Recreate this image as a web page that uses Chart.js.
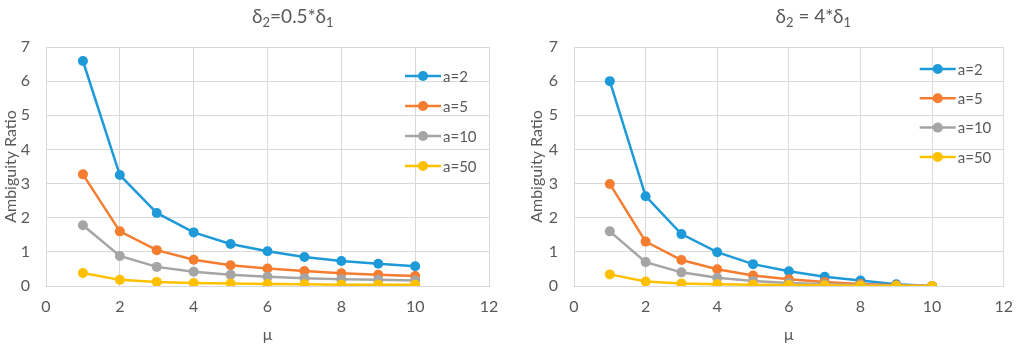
<!DOCTYPE html>
<html>
<head>
<meta charset="utf-8">
<script src="https://cdn.jsdelivr.net/npm/chart.js@4/dist/chart.umd.min.js"></script>
<style>
  html, body { margin: 0; padding: 0; background: #fff; }
  .box { position: absolute; top: 0; width: 512px; height: 344px; }
</style>
</head>
<body>
<div class="box" style="left:0"><canvas id="left" width="512" height="344"></canvas></div>
<div class="box" style="left:512px"><canvas id="right" width="512" height="344"></canvas></div>
<script>
// mu values (x axis)
const mu = [1, 2, 3, 4, 5, 6, 7, 8, 9, 10];
const seriesNames = ['a=2', 'a=5', 'a=10', 'a=50'];
const colors = ['#1f9ad9', '#f47d30', '#a5a5a5', '#ffc000'];

// left chart: delta2 = 0.5 * delta1
const halfA2 = [6.59, 3.25, 2.14, 1.57, 1.23, 1.02, 0.85, 0.73, 0.65, 0.58];
const halfA5 = [3.27, 1.60, 1.05, 0.77, 0.61, 0.51, 0.44, 0.37, 0.33, 0.29];
const halfA10 = [1.78, 0.88, 0.56, 0.42, 0.33, 0.27, 0.23, 0.20, 0.18, 0.16];
const halfA50 = [0.38, 0.18, 0.12, 0.09, 0.07, 0.06, 0.05, 0.04, 0.04, 0.04];

// right chart: delta2 = 4 * delta1
const fourA2 = [6.0, 2.63, 1.52, 0.99, 0.64, 0.43, 0.27, 0.16, 0.05, 0];
const fourA5 = [2.99, 1.30, 0.76, 0.49, 0.31, 0.20, 0.12, 0.06, 0.02, 0];
const fourA10 = [1.60, 0.70, 0.40, 0.24, 0.15, 0.09, 0.05, 0.03, 0.01, 0];
const fourA50 = [0.34, 0.13, 0.07, 0.05, 0.04, 0.03, 0.02, 0.01, 0.005, 0];

const textColor = '#595959';
const gridColor = '#d9d9d9';
const fontFamily = 'Lato, "Open Sans", sans-serif';

// title with subscripts, drawn over the chart area
const titlePlugin = {
  id: 'subTitle',
  afterDraw(chart, args, opts) {
    const ctx = chart.ctx;
    const area = chart.chartArea;
    const parts = opts.parts;
    ctx.save();
    ctx.fillStyle = textColor;
    ctx.textBaseline = 'alphabetic';
    let total = 0;
    parts.forEach(p => {
      ctx.font = (p.sub ? 13 : 19) + 'px ' + fontFamily;
      total += ctx.measureText(p.t).width;
    });
    let x = area.left + (area.right - area.left) * 0.557 - total / 2;
    parts.forEach(p => {
      ctx.font = (p.sub ? 13 : 19) + 'px ' + fontFamily;
      ctx.fillText(p.t, x, p.sub ? 27 : 23);
      x += ctx.measureText(p.t).width;
    });
    ctx.restore();
  }
};

// legend inside the plot, right side
const legendPlugin = {
  id: 'insideLegend',
  afterDraw(chart, args, opts) {
    const ctx = chart.ctx;
    const area = chart.chartArea;
    const x0 = area.right - 84;
    ctx.save();
    chart.data.datasets.forEach((ds, i) => {
      const y = area.top + opts.top + i * opts.step;
      ctx.strokeStyle = ds.borderColor;
      ctx.lineWidth = 2.5;
      ctx.beginPath();
      ctx.moveTo(x0, y);
      ctx.lineTo(x0 + 36, y);
      ctx.stroke();
      ctx.fillStyle = ds.borderColor;
      ctx.beginPath();
      ctx.arc(x0 + 18, y, 5, 0, Math.PI * 2);
      ctx.fill();
      ctx.fillStyle = textColor;
      ctx.font = '15px ' + fontFamily;
      ctx.textBaseline = 'middle';
      ctx.fillText(ds.label, x0 + 38, y + 1);
    });
    ctx.restore();
  }
};

function makeChart(id, values, titleParts, padLeft, padRight, yWidth, legendTop, legendStep) {
  const datasets = values.map((arr, i) => ({
    label: seriesNames[i],
    data: arr.map((v, k) => ({ x: mu[k], y: v })),
    borderColor: colors[i],
    backgroundColor: colors[i],
    borderWidth: 2.5,
    pointRadius: 5,
    pointBorderWidth: 0,
    showLine: true,
    order: 3 - i
  }));
  return new Chart(document.getElementById(id), {
    type: 'scatter',
    data: { datasets: datasets },
    options: {
      responsive: false,
      animation: false,
      layout: { padding: { top: 47, left: padLeft, right: padRight, bottom: 0 } },
      plugins: {
        legend: { display: false },
        tooltip: { enabled: false },
        subTitle: { parts: titleParts },
        insideLegend: { top: legendTop, step: legendStep }
      },
      scales: {
        x: {
          type: 'linear',
          min: 0, max: 12,
          afterFit(scale) { scale.height = 58; },
          ticks: { stepSize: 2, color: textColor, padding: 11, font: { family: fontFamily, size: 16 } },
          grid: { color: gridColor, drawTicks: false },
          border: { color: gridColor },
          title: { display: true, text: 'μ', color: textColor, padding: { top: 0, bottom: 0 }, font: { family: fontFamily, size: 16 } }
        },
        y: {
          min: 0, max: 7,
          afterFit(scale) { scale.width = yWidth; },
          ticks: { stepSize: 1, color: textColor, padding: 16, font: { family: fontFamily, size: 16 } },
          grid: { color: gridColor, drawTicks: false },
          border: { color: gridColor },
          title: { display: true, text: 'Ambiguity Ratio', color: textColor, padding: { top: 0, bottom: 0 }, font: { family: fontFamily, size: 16 } }
        }
      }
    },
    plugins: [titlePlugin, legendPlugin]
  });
}

makeChart('left', [halfA2, halfA5, halfA10, halfA50],
  [{ t: 'δ' }, { t: '2', sub: true }, { t: '=0.5*δ' }, { t: '1', sub: true }], 1, 23, 45, 29, 30);
makeChart('right', [fourA2, fourA5, fourA10, fourA50],
  [{ t: 'δ' }, { t: '2', sub: true }, { t: ' = 4*δ' }, { t: '1', sub: true }], 15, 10, 47, 22, 29.3);
</script>
</body>
</html>
